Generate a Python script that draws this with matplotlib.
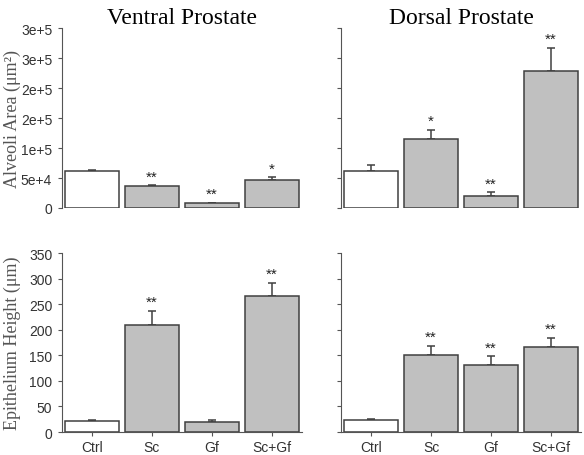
import matplotlib
matplotlib.use("Agg")
import matplotlib.pyplot as plt

categories = ["Ctrl", "Sc", "Gf", "Sc+Gf"]

ventral_area = [61000, 36000, 8000, 47000]
ventral_area_err = [3000, 2000, 1000, 4000]
ventral_area_sig = ["", "**", "**", "*"]

dorsal_area = [62000, 114500, 20000, 229500]
dorsal_area_err = [10000, 16000, 6500, 38000]
dorsal_area_sig = ["", "*", "**", "**"]

ventral_height = [21.5, 209, 20, 266]
ventral_height_err = [2, 28, 4.5, 26]
ventral_height_sig = ["", "**", "", "**"]

dorsal_height = [23.5, 150, 132, 166.5]
dorsal_height_err = [1.5, 18, 16, 17.5]
dorsal_height_sig = ["", "**", "**", "**"]

area_ticks = [0, 50000, 100000, 150000, 200000, 250000, 300000]
area_ticklabels = ["0", "5e+4", "1e+5", "2e+5", "2e+5", "3e+5", "3e+5"]
height_ticks = [0, 50, 100, 150, 200, 250, 300, 350]

fill_colors = ["white", "#c0c0c0", "#c0c0c0", "#c0c0c0"]
edge = "#404040"
spine_c = "#555555"
serif = ["Liberation Serif", "DejaVu Serif"]
sans = ["Liberation Sans", "DejaVu Sans"]

fig = plt.figure(figsize=(5.84, 4.56), dpi=100)
w = 0.411
pos = {
    "tl": [0.106, 0.5417, w, 0.394],
    "tr": [0.584, 0.5417, w, 0.394],
    "bl": [0.106, 0.0504, w, 0.392],
    "br": [0.584, 0.0504, w, 0.392],
}

def draw(ax, vals, errs, sigs, ymax, ticks, ticklabels, show_y, bottom, sig_gap):
    x = list(range(len(categories)))
    ax.bar(x, vals, width=0.9, color=fill_colors, edgecolor=edge, linewidth=1.1, zorder=2)
    ax.errorbar(x, vals, yerr=[[0]*len(errs), errs], fmt="none", ecolor=edge,
                elinewidth=1.1, capsize=3, capthick=1.1, zorder=1)
    for xi, v, e, s in zip(x, vals, errs, sigs):
        if s:
            ax.text(xi, v + e + sig_gap, s, ha="center", va="bottom", fontsize=11,
                    family=sans, color="#222222")
    ax.set_xlim(-0.5, 3.5)
    ax.set_ylim(0, ymax)
    ax.set_yticks(ticks)
    ax.spines["top"].set_visible(False)
    ax.spines["right"].set_visible(False)
    ax.spines["left"].set_color(spine_c)
    ax.spines["bottom"].set_color(spine_c)
    ax.tick_params(axis="y", direction="out", length=3, color=spine_c, labelsize=10,
                   labelcolor="#333333", pad=4)
    if show_y:
        ax.set_yticklabels(ticklabels, family=sans)
    else:
        ax.set_yticklabels([])
    if bottom:
        ax.set_xticks(x)
        ax.set_xticklabels(categories, family=sans, fontsize=10, color="#333333")
        ax.tick_params(axis="x", direction="out", length=3, color=spine_c, pad=3)
    else:
        ax.spines["bottom"].set_visible(False)
        ax.set_xticks([])

ax1 = fig.add_axes(pos["tl"])
draw(ax1, ventral_area, ventral_area_err, ventral_area_sig, 300000, area_ticks,
     area_ticklabels, True, False, 3000)
ax1.set_ylabel("Alveoli Area (μm²)", family=serif, fontsize=13, color="#555555")
ax1.yaxis.set_label_coords(-0.17, 0.5)
ax1.set_title("Ventral Prostate", family=serif, fontsize=17, pad=4)

ax2 = fig.add_axes(pos["tr"])
draw(ax2, dorsal_area, dorsal_area_err, dorsal_area_sig, 300000, area_ticks,
     area_ticklabels, False, False, 3000)
ax2.set_title("Dorsal Prostate", family=serif, fontsize=17, pad=4)

ax3 = fig.add_axes(pos["bl"])
draw(ax3, ventral_height, ventral_height_err, ventral_height_sig, 350, height_ticks,
     [str(t) for t in height_ticks], True, True, 4)
ax3.set_ylabel("Epithelium Height (μm)", family=serif, fontsize=13, color="#555555")
ax3.yaxis.set_label_coords(-0.17, 0.5)

ax4 = fig.add_axes(pos["br"])
draw(ax4, dorsal_height, dorsal_height_err, dorsal_height_sig, 350, height_ticks,
     [str(t) for t in height_ticks], False, True, 4)

fig.savefig("out.png", dpi=100)
